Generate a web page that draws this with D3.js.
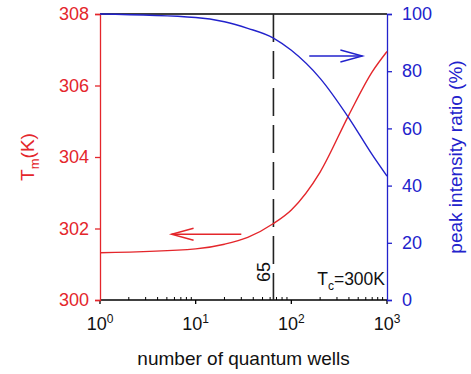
<!DOCTYPE html>
<html>
<head>
<meta charset="utf-8">
<script src="https://cdn.jsdelivr.net/npm/d3@7"></script>
<style>
  body { margin: 0; background: #fff; }
  svg { display: block; font-family: "Liberation Sans", Arial, sans-serif; }
</style>
</head>
<body>
<div id="chart"></div>
<script>
// values
var wells = [1, 10, 20, 35, 65, 100, 200, 400, 700, 1000];
var tm = [301.32, 301.43, 301.56, 301.75, 302.14, 302.52, 303.58, 305.18, 306.38, 306.95];
var ratio = [100, 98.8, 97.3, 95.0, 91.6, 87.3, 77.5, 63.6, 50.8, 43.3];
var tmTicks = [300, 302, 304, 306, 308];
var ratioTicks = [0, 20, 40, 60, 80, 100];
var decades = [1, 10, 100, 1000];
var criticalWells = 65;

var red = "#e4262b";
var blue = "#2222cc";

var width = 471, height = 374;
var svg = d3.select("#chart").append("svg")
  .attr("width", width)
  .attr("height", height);

var x = d3.scaleLog().domain([1, 1000]).range([100, 387]);
var yL = d3.scaleLinear().domain([300, 308]).range([300, 14]);
var yR = d3.scaleLinear().domain([0, 100]).range([300, 14]);

// frame: top and bottom lines black
svg.append("line").attr("x1", x(1)).attr("x2", x(1000))
  .attr("y1", yL(308)).attr("y2", yL(308))
  .attr("stroke", "#000").attr("stroke-width", 1.3);

// bottom axis: major ticks outward, minor ticks inward
var minor = [];
decades.slice(0, 3).forEach(function (d) {
  for (var k = 2; k < 10; k++) minor.push(d * k);
});
var gx = svg.append("g").attr("transform", "translate(0," + yL(300) + ")");
gx.append("line").attr("x1", x(1)).attr("x2", x(1000))
  .attr("stroke", "#000").attr("stroke-width", 1.3);
gx.selectAll(".minor").data(minor).enter().append("line")
  .attr("x1", function (d) { return x(d); })
  .attr("x2", function (d) { return x(d); })
  .attr("y1", 0).attr("y2", -3)
  .attr("stroke", "#000").attr("stroke-width", 1);
gx.selectAll(".major").data(decades).enter().append("line")
  .attr("x1", function (d) { return x(d); })
  .attr("x2", function (d) { return x(d); })
  .attr("y1", 0).attr("y2", 4)
  .attr("stroke", "#000").attr("stroke-width", 1.3);
var lab = gx.selectAll(".lab").data(decades).enter().append("text")
  .attr("x", function (d) { return x(d); })
  .attr("y", 30)
  .attr("text-anchor", "middle")
  .attr("font-size", 18)
  .attr("fill", "#111");
lab.append("tspan").text("10");
lab.append("tspan").attr("dy", -7).attr("font-size", 12)
  .text(function (d) { return Math.round(Math.log10(d)); });

svg.append("text")
  .attr("x", (x(1) + x(1000)) / 2)
  .attr("y", 365)
  .attr("text-anchor", "middle")
  .attr("font-size", 19)
  .attr("fill", "#111")
  .text("number of quantum wells");

// left axis (red)
var gl = svg.append("g").attr("transform", "translate(" + x(1) + ",0)");
gl.call(d3.axisLeft(yL).tickValues(tmTicks).tickSize(5).tickPadding(6));
gl.selectAll("path, line").attr("stroke", red).attr("stroke-width", 1.3);
gl.selectAll("text").attr("fill", red).attr("font-size", 18)
  .attr("font-family", "Liberation Sans, Arial, sans-serif");

var tl = svg.append("text")
  .attr("transform", "translate(34,157) rotate(-90)")
  .attr("text-anchor", "middle")
  .attr("font-size", 19)
  .attr("fill", red);
tl.append("tspan").text("T");
tl.append("tspan").attr("dy", 5).attr("font-size", 13).text("m");
tl.append("tspan").attr("dy", -5).text("(K)");

// right axis (blue)
var gr = svg.append("g").attr("transform", "translate(" + x(1000) + ",0)");
gr.call(d3.axisRight(yR).tickValues(ratioTicks).tickSize(5).tickPadding(10));
gr.selectAll("path, line").attr("stroke", blue).attr("stroke-width", 1.3);
gr.selectAll("text").attr("fill", blue).attr("font-size", 18)
  .attr("font-family", "Liberation Sans, Arial, sans-serif");

svg.append("text")
  .attr("transform", "translate(462,157) rotate(-90)")
  .attr("text-anchor", "middle")
  .attr("font-size", 19)
  .attr("fill", blue)
  .text("peak intensity ratio (%)");

// dashed marker at 65 wells
svg.append("line")
  .attr("x1", x(criticalWells)).attr("x2", x(criticalWells))
  .attr("y1", yL(308)).attr("y2", yL(300))
  .attr("stroke", "#222").attr("stroke-width", 1.6)
  .attr("stroke-dasharray", "28,9");
svg.append("text")
  .attr("transform", "translate(" + (x(criticalWells) - 3) + ",272) rotate(-90)")
  .attr("text-anchor", "middle")
  .attr("font-size", 18)
  .attr("fill", "#111")
  .text(criticalWells);

var tc = svg.append("text")
  .attr("x", 385).attr("y", 285)
  .attr("text-anchor", "end")
  .attr("font-size", 17.5)
  .attr("fill", "#111");
tc.append("tspan").text("T");
tc.append("tspan").attr("dy", 5).attr("font-size", 12).text("c");
tc.append("tspan").attr("dy", -5).text("=300K");

// curves
var lineTm = d3.line()
  .x(function (d, i) { return x(wells[i]); })
  .y(function (d) { return yL(d); })
  .curve(d3.curveMonotoneX);
var lineRatio = d3.line()
  .x(function (d, i) { return x(wells[i]); })
  .y(function (d) { return yR(d); })
  .curve(d3.curveMonotoneX);

svg.append("path").attr("d", lineTm(tm))
  .attr("fill", "none").attr("stroke", red).attr("stroke-width", 1.4);
svg.append("path").attr("d", lineRatio(ratio))
  .attr("fill", "none").attr("stroke", blue).attr("stroke-width", 1.4);

// arrows pointing to each curve's axis
function arrow(x0, x1, y, color) {
  var dir = x1 > x0 ? 1 : -1;
  var tip = [x(x1), y];
  svg.append("line")
    .attr("x1", x(x0)).attr("x2", tip[0])
    .attr("y1", y).attr("y2", y)
    .attr("stroke", color).attr("stroke-width", 1.4);
  svg.append("path")
    .attr("d", "M" + (tip[0] - dir * 22) + "," + (y - 6) +
      "L" + tip[0] + "," + y +
      "L" + (tip[0] - dir * 22) + "," + (y + 6))
    .attr("fill", "none").attr("stroke", color).attr("stroke-width", 1.4);
}
arrow(154, 553, yR(85.3), blue);
arrow(30, 5.6, yL(301.84), red);
</script>
</body>
</html>
